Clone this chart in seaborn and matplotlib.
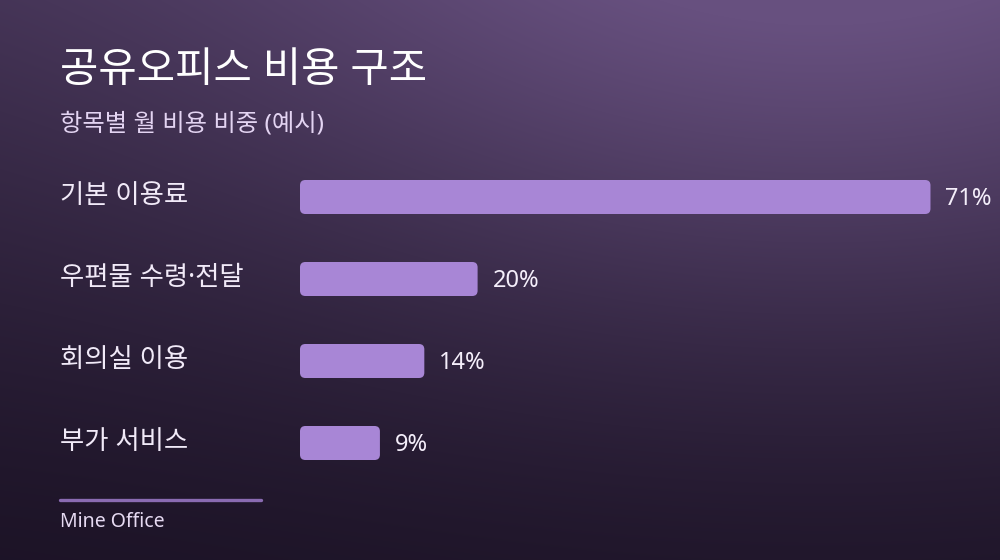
import numpy as np
import pandas as pd
import seaborn as sns
import matplotlib.pyplot as plt
from matplotlib.patches import FancyBboxPatch
from matplotlib.colors import to_rgb

# data
categories = ["기본 이용료", "우편물 수령·전달", "회의실 이용", "부가 서비스"]
shares = [71, 20, 14, 9]
value_labels = ["71%", "20%", "14%", "9%"]

title = "공유오피스 비용 구조"
subtitle = "항목별 월 비용 비중 (예시)"
source = "Mine Office"

df = pd.DataFrame({"항목": categories, "비중": shares})

sns.set_theme(style="white")
plt.rcParams['font.family'] = ['Noto Sans', 'Noto Sans CJK KR', 'DejaVu Sans']

W, H = 1000, 560
fig = plt.figure(figsize=(W / 100, H / 100), dpi=100)

# background gradient
bg = fig.add_axes([0, 0, 1, 1])
yy, xx = np.mgrid[0:H, 0:W]
vert = (1 - yy / H) ** 1.3
glow = np.exp(-(((xx - 820) / 620) ** 2 + ((yy + 60) / 420) ** 2))
t = np.clip(0.45 * vert + 0.6 * glow, 0, 1)
dark = np.array(to_rgb("#1c1326"))
light = np.array(to_rgb("#67507f"))
img = dark + (light - dark) * t[..., None]
bg.imshow(img, aspect="auto", extent=[0, W, H, 0])
bg.set_axis_off()

# bars axes: x=0 at 300px, 8.88 px per %
px_per_unit = 8.88
xmax = 80
row_px = 82
ax = fig.add_axes([300 / W, 1 - 484 / H, xmax * px_per_unit / W, 4 * row_px / H])
ax.set_facecolor("none")

bar_color = "#a886d6"
sns.barplot(data=df, x="비중", y="항목", orient="h", color=bar_color,
            width=34 / row_px, saturation=1, ax=ax)
ax.set_xlim(0, xmax)
ax.set_ylim(3.5, -0.5)

# swap plain bars for rounded ones
aspect = px_per_unit / row_px
for p in list(ax.patches):
    x0, y0 = p.get_x(), p.get_y()
    w, h = p.get_width(), p.get_height()
    p.remove()
    ax.add_patch(FancyBboxPatch((x0, y0), w, h,
                                boxstyle="round,pad=0,rounding_size=0.6",
                                mutation_aspect=aspect,
                                facecolor=bar_color, edgecolor="none"))

for i, (v, lab) in enumerate(zip(shares, value_labels)):
    ax.text(v + 15 / px_per_unit, i + 0.03, lab, va="center", ha="left",
            fontsize=17, color="#f4eefa")

ax.set_xlabel("")
ax.set_ylabel("")
ax.set_xticks([])
ax.set_yticks([])
sns.despine(ax=ax, left=True, bottom=True)

# category labels at left margin
for i, cat in enumerate(categories):
    fig.text(60 / W, 1 - (196 + i * row_px) / H, cat, va="center", ha="left",
             fontsize=19, color="#f1eaf8")

fig.text(60 / W, 1 - 71 / H, title, va="center", ha="left",
         fontsize=30, color="white", fontweight="medium")
fig.text(60 / W, 1 - 124 / H, subtitle, va="center", ha="left",
         fontsize=17.5, color="#e3d4f2")

fig.add_artist(plt.Line2D([60 / W, 261 / W], [1 - 500 / H, 1 - 500 / H],
                          color="#8a6bb2", linewidth=2.4))
fig.text(60 / W, 1 - 522 / H, source, va="center", ha="left",
         fontsize=14, color="#e6daf2")

fig.savefig("out.png", dpi=100)
plt.close()
